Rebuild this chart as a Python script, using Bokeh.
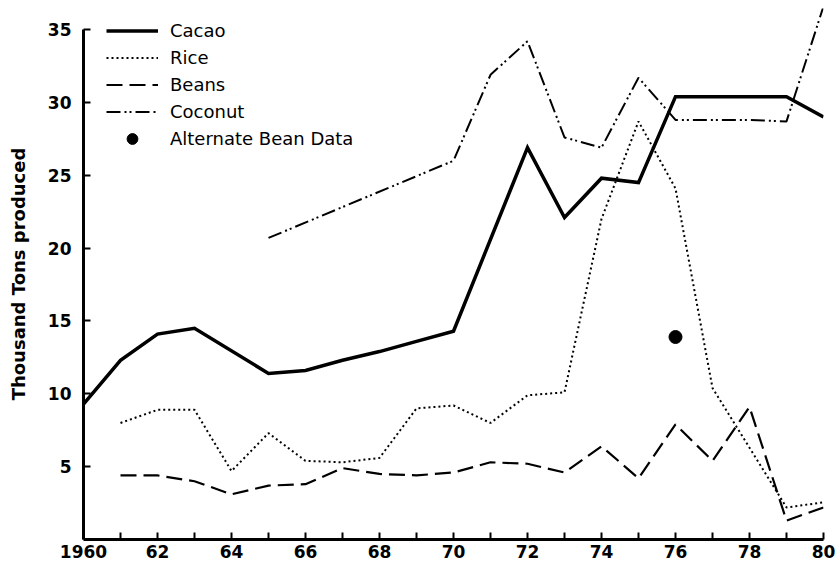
from bokeh.plotting import figure
from bokeh.models import Legend, LegendItem, FixedTicker, Range1d
from bokeh.embed import file_html
from bokeh.resources import INLINE

# ---- data (thousand tons) ----
cacao_years = [1960, 1961, 1962, 1963, 1965, 1966, 1967, 1968, 1969, 1970, 1972, 1973, 1974, 1975, 1976, 1977, 1978, 1979, 1980]
cacao = [9.3, 12.3, 14.1, 14.5, 11.4, 11.6, 12.3, 12.9, 13.6, 14.3, 26.9, 22.1, 24.8, 24.5, 30.4, 30.4, 30.4, 30.4, 29.0]

rice_years = [1961, 1962, 1963, 1964, 1965, 1966, 1967, 1968, 1969, 1970, 1971, 1972, 1973, 1974, 1975, 1976, 1977, 1979, 1980]
rice = [8.0, 8.9, 8.9, 4.7, 7.3, 5.4, 5.3, 5.6, 9.0, 9.2, 8.0, 9.9, 10.1, 22.0, 28.7, 24.1, 10.4, 2.2, 2.55]

beans_years = [1961, 1962, 1963, 1964, 1965, 1966, 1967, 1968, 1969, 1970, 1971, 1972, 1973, 1974, 1975, 1976, 1977, 1978, 1979, 1980]
beans = [4.4, 4.4, 4.0, 3.1, 3.7, 3.8, 4.9, 4.5, 4.4, 4.6, 5.3, 5.2, 4.6, 6.4, 4.2, 7.9, 5.4, 9.1, 1.3, 2.2]

coconut_years = [1965, 1970, 1971, 1972, 1973, 1974, 1975, 1976, 1977, 1978, 1979, 1980]
coconut = [20.7, 26.0, 31.9, 34.2, 27.6, 26.9, 31.7, 28.8, 28.8, 28.8, 28.7, 36.6]

alt_bean_years = [1976]
alt_bean = [13.9]

x_ticks = list(range(1960, 1981))
x_tick_labels = {y: ("1960" if y == 1960 else (f"{y % 100:02d}" if y % 2 == 0 else "")) for y in x_ticks}
y_ticks = [5, 10, 15, 20, 25, 30, 35]

# ---- figure ----
p = figure(width=837, height=567, output_backend="svg", toolbar_location=None,
           x_range=Range1d(1960, 1980), y_range=Range1d(0, 36.45),
           min_border_left=83, min_border_right=14, min_border_top=8, min_border_bottom=28)
p.outline_line_color = None
p.grid.visible = False
p.background_fill_color = "white"

FONT = "DejaVu Sans"

r_cacao = p.line(cacao_years, cacao, line_color="black", line_width=3.5, line_join="miter")
r_rice = p.line(rice_years, rice, line_color="black", line_width=2, line_dash="2 3")
r_beans = p.line(beans_years, beans, line_color="black", line_width=2.2, line_dash="16 7")
r_coco = p.line(coconut_years, coconut, line_color="black", line_width=2, line_dash="14 4 2 3 2 4")
r_alt = p.scatter(alt_bean_years, alt_bean, size=13, color="black")

# axes
for ax in (p.xaxis[0], p.yaxis[0]):
    ax.axis_line_width = 3
    ax.axis_line_color = "black"
    ax.major_tick_in = 7
    ax.major_tick_out = 0
    ax.major_tick_line_width = 2
    ax.minor_tick_line_color = None
    ax.major_label_text_font = FONT
    ax.major_label_text_font_style = "bold"
    ax.major_label_text_font_size = "17px"
    ax.major_label_text_color = "black"

p.xaxis.ticker = FixedTicker(ticks=x_ticks)
p.xaxis.major_label_overrides = {y: s for y, s in x_tick_labels.items()}
p.xaxis.major_label_standoff = 5

p.yaxis.ticker = FixedTicker(ticks=y_ticks)
p.yaxis.bounds = (0, 35)
p.yaxis.major_label_standoff = 12
p.yaxis.axis_label = "Thousand Tons produced"
p.yaxis.axis_label_text_font = FONT
p.yaxis.axis_label_text_font_style = "bold"
p.yaxis.axis_label_text_font_size = "18px"
p.yaxis.axis_label_text_color = "black"
p.yaxis.axis_label_standoff = 16

legend = Legend(items=[
    LegendItem(label="Cacao", renderers=[r_cacao]),
    LegendItem(label="Rice", renderers=[r_rice]),
    LegendItem(label="Beans", renderers=[r_beans]),
    LegendItem(label="Coconut", renderers=[r_coco]),
    LegendItem(label="Alternate Bean Data", renderers=[r_alt]),
], location=(23, 387))
legend.border_line_color = None
legend.background_fill_alpha = 0
legend.padding = 0
legend.margin = 0
legend.spacing = 0
legend.glyph_width = 52
legend.glyph_height = 27
legend.label_height = 27
legend.label_standoff = 12
legend.label_text_font = FONT
legend.label_text_font_size = "18px"
legend.label_text_color = "black"
p.add_layout(legend, "center")

open("out.html", "w").write(file_html(p, INLINE))
